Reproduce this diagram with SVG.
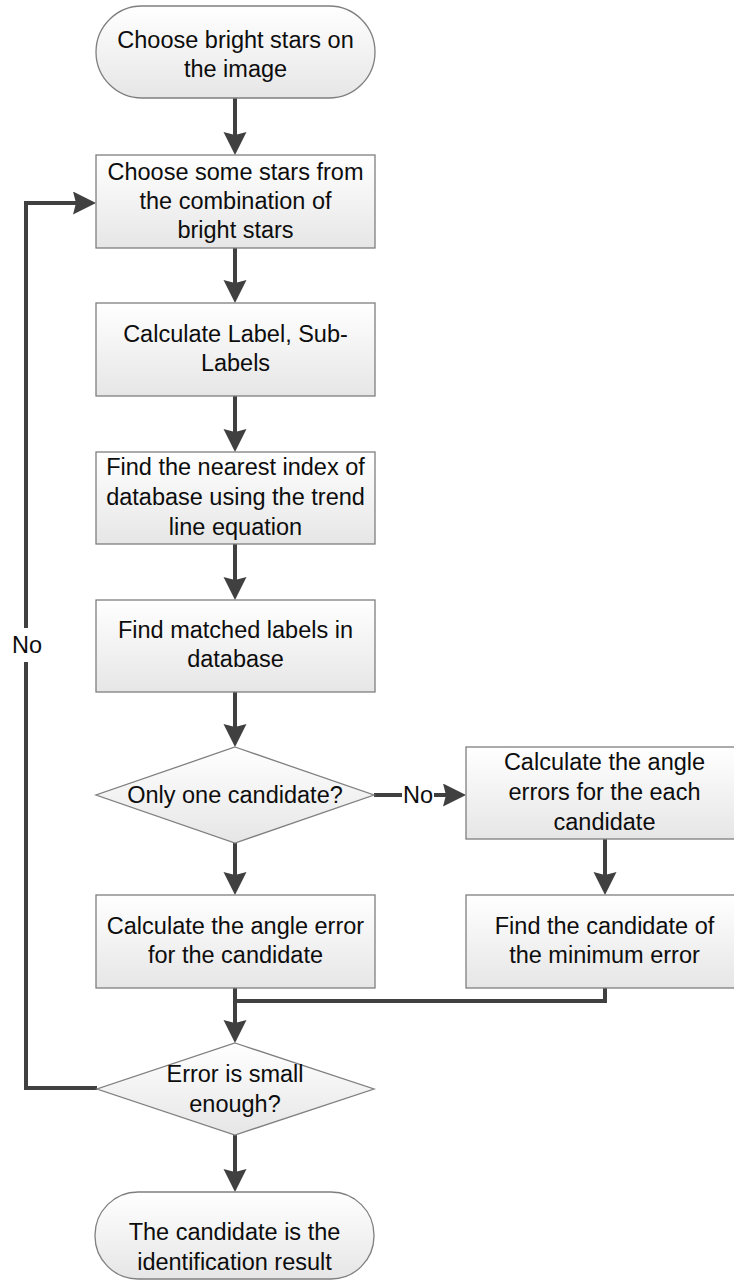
<svg xmlns="http://www.w3.org/2000/svg" width="734" height="1280" viewBox="0 0 734 1280">
<style>
.shape{fill:url(#g);stroke:#7f7f7f;stroke-width:1.3}
.t{font-family:"Liberation Sans",Arial,sans-serif;font-size:23.5px;fill:#0d0d0d;text-anchor:middle}
.c{fill:none;stroke:#404040;stroke-width:4}
</style>
<defs>
<linearGradient id="g" x1="0" y1="0" x2="0" y2="1">
<stop offset="0" stop-color="#ffffff"/>
<stop offset="1" stop-color="#e6e6e6"/>
</linearGradient>
<marker id="a" markerUnits="userSpaceOnUse" markerWidth="24" markerHeight="24" viewBox="0 0 24 24" refX="13" refY="11.5" orient="auto">
<path d="M0,0 L23,11.5 L0,23 L3,11.5 Z" fill="#404040"/>
</marker>
</defs>
<rect width="734" height="1280" fill="#ffffff"/>
<g id="connectors">
<path class="c" d="M235,98 V145" marker-end="url(#a)"/>
<path class="c" d="M235,248 V293" marker-end="url(#a)"/>
<path class="c" d="M235,396 V442" marker-end="url(#a)"/>
<path class="c" d="M235,544 V590" marker-end="url(#a)"/>
<path class="c" d="M235,692 V737" marker-end="url(#a)"/>
<path class="c" d="M235,843 V885" marker-end="url(#a)"/>
<path class="c" d="M374,795 H402"/>
<path class="c" d="M434,795 H456" marker-end="url(#a)"/>
<text class="t" x="418" y="803">No</text>
<path class="c" d="M605,839 V885" marker-end="url(#a)"/>
<path class="c" d="M235,988 V1033" marker-end="url(#a)"/>
<path class="c" d="M605,988 V1001 H235"/>
<path class="c" d="M235,1135 V1182" marker-end="url(#a)"/>
<path class="c" d="M97,1088 H26 V203 H86" marker-end="url(#a)"/>
<rect x="8" y="628" width="38" height="34" fill="#ffffff"/>
<text class="t" x="27" y="653">No</text>
</g>
<g id="start">
<rect class="shape" x="96" y="6" width="279" height="92" rx="46"/>
<text class="t" x="235.5" y="48">Choose bright stars on</text>
<text class="t" x="235.5" y="77">the image</text>
</g>
<g id="choose">
<rect class="shape" x="96" y="155" width="279" height="93"/>
<text class="t" x="235.5" y="180">Choose some stars from</text>
<text class="t" x="235.5" y="209">the combination of</text>
<text class="t" x="235.5" y="238">bright stars</text>
</g>
<g id="label">
<rect class="shape" x="96" y="303" width="279" height="93"/>
<text class="t" x="235.5" y="342">Calculate Label, Sub-</text>
<text class="t" x="235.5" y="371">Labels</text>
</g>
<g id="nearest">
<rect class="shape" x="96" y="452" width="279" height="92"/>
<text class="t" x="235.5" y="475">Find the nearest index of</text>
<text class="t" x="235.5" y="505">database using the trend</text>
<text class="t" x="235.5" y="535">line equation</text>
</g>
<g id="matched">
<rect class="shape" x="96" y="600" width="279" height="92"/>
<text class="t" x="235.5" y="638">Find matched labels in</text>
<text class="t" x="235.5" y="667">database</text>
</g>
<g id="only-one">
<polygon class="shape" points="235,747 374,795 235,843 96,795"/>
<text class="t" x="235" y="803">Only one candidate?</text>
</g>
<g id="errors-each">
<rect class="shape" x="466" y="747" width="276" height="92"/>
<text class="t" x="604.5" y="770">Calculate the angle</text>
<text class="t" x="604.5" y="800">errors for the each</text>
<text class="t" x="604.5" y="830">candidate</text>
</g>
<g id="angle-error">
<rect class="shape" x="96" y="895" width="279" height="93"/>
<text class="t" x="235.5" y="934">Calculate the angle error</text>
<text class="t" x="235.5" y="963">for the candidate</text>
</g>
<g id="minimum">
<rect class="shape" x="466" y="895" width="276" height="93"/>
<text class="t" x="604.5" y="934">Find the candidate of</text>
<text class="t" x="604.5" y="963">the minimum error</text>
</g>
<g id="small-enough">
<polygon class="shape" points="235,1043 374,1089 235,1135 97,1089"/>
<text class="t" x="235" y="1082">Error is small</text>
<text class="t" x="235" y="1112">enough?</text>
</g>
<g id="result">
<rect class="shape" x="95" y="1192" width="279" height="87" rx="43"/>
<text class="t" x="234.5" y="1240">The candidate is the</text>
<text class="t" x="234.5" y="1270">identification result</text>
</g>
</svg>
